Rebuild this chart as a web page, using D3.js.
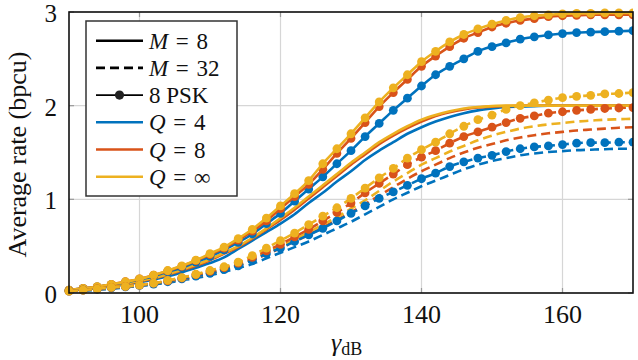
<!DOCTYPE html>
<html>
<head>
<meta charset="utf-8" />
<script src="https://cdn.jsdelivr.net/npm/d3@7"></script>
<style>
  body { margin: 0; background: #fff; }
  text { font-family: "Liberation Serif", "Times New Roman", serif; fill: #111; }
</style>
</head>
<body>
<div id="chart"></div>
<script>
// gamma_dB sample points (every 2 dB)
var xs = [90,92,94,96,98,100,102,104,106,108,110,112,114,116,118,120,122,124,126,128,130,
          132,134,136,138,140,142,144,146,148,150,152,154,156,158,160,162,164,166,168,170];

// M = 8, no PSK (solid)
var m8Q4   = [0.025,0.04,0.055,0.07,0.09,0.115,0.145,0.18,0.22,0.27,0.32,0.38,0.47,0.56,0.65,0.74,0.84,0.96,1.07,1.19,1.30,
              1.42,1.52,1.61,1.70,1.77,1.83,1.88,1.92,1.95,1.97,1.985,1.99,1.995,2.0,2.0,2.0,2.0,2.0,2.0,2.0];
var m8Q8   = [0.03,0.045,0.06,0.08,0.10,0.125,0.155,0.195,0.24,0.29,0.35,0.42,0.49,0.58,0.68,0.78,0.89,1.01,1.13,1.25,1.37,
              1.48,1.59,1.68,1.76,1.83,1.89,1.93,1.96,1.98,1.99,1.995,2.0,2.0,2.0,2.0,2.0,2.0,2.0,2.0,2.0];
var m8Qinf = [0.03,0.045,0.06,0.08,0.10,0.13,0.16,0.20,0.25,0.30,0.36,0.43,0.50,0.59,0.69,0.80,0.91,1.03,1.15,1.27,1.39,
              1.50,1.61,1.70,1.78,1.85,1.90,1.94,1.97,1.985,1.995,2.0,2.0,2.0,2.0,2.0,2.0,2.0,2.0,2.0,2.0];

// M = 32, no PSK (dashed)
var m32Q4   = [0.02,0.025,0.035,0.045,0.06,0.075,0.09,0.11,0.135,0.16,0.19,0.225,0.265,0.31,0.37,0.43,0.49,0.55,0.62,0.69,0.76,
               0.84,0.92,1.00,1.07,1.14,1.20,1.26,1.32,1.37,1.41,1.44,1.47,1.49,1.505,1.515,1.525,1.53,1.535,1.54,1.54];
var m32Q8   = [0.02,0.03,0.04,0.05,0.065,0.08,0.095,0.12,0.145,0.175,0.21,0.25,0.295,0.35,0.41,0.48,0.55,0.62,0.70,0.78,0.86,
               0.95,1.04,1.13,1.22,1.30,1.37,1.44,1.50,1.55,1.59,1.63,1.66,1.685,1.705,1.72,1.735,1.745,1.755,1.765,1.77];
var m32Qinf = [0.02,0.03,0.04,0.055,0.07,0.085,0.10,0.125,0.15,0.18,0.215,0.255,0.30,0.36,0.43,0.50,0.57,0.65,0.73,0.81,0.90,
               0.99,1.09,1.19,1.28,1.37,1.44,1.51,1.57,1.63,1.68,1.72,1.755,1.78,1.80,1.815,1.83,1.84,1.85,1.855,1.86];

// 8 PSK, M = 8 (solid with markers)
var psk8Q4   = [0.03,0.05,0.065,0.09,0.115,0.145,0.18,0.225,0.27,0.33,0.39,0.46,0.54,0.63,0.74,0.85,0.98,1.11,1.24,1.38,1.52,
                1.67,1.81,1.95,2.08,2.21,2.33,2.42,2.50,2.58,2.63,2.67,2.71,2.735,2.755,2.77,2.78,2.785,2.79,2.795,2.80];
var psk8Q8   = [0.03,0.05,0.066,0.092,0.12,0.15,0.19,0.235,0.285,0.345,0.41,0.48,0.565,0.66,0.77,0.90,1.03,1.16,1.32,1.49,1.65,
                1.82,1.99,2.14,2.28,2.42,2.53,2.63,2.72,2.78,2.84,2.88,2.91,2.93,2.95,2.96,2.965,2.97,2.97,2.97,2.97];
var psk8Qinf = [0.03,0.05,0.067,0.093,0.12,0.15,0.19,0.24,0.29,0.35,0.42,0.49,0.58,0.68,0.80,0.93,1.06,1.20,1.38,1.54,1.70,
                1.87,2.04,2.19,2.33,2.47,2.58,2.68,2.76,2.82,2.87,2.91,2.94,2.96,2.97,2.98,2.985,2.985,2.99,2.99,2.99];

// 8 PSK, M = 32 (dashed with markers)
var psk32Q4   = [0.02,0.03,0.04,0.055,0.065,0.08,0.095,0.12,0.15,0.18,0.21,0.25,0.29,0.35,0.42,0.48,0.55,0.62,0.69,0.77,0.85,
                 0.93,1.01,1.08,1.15,1.22,1.28,1.35,1.40,1.44,1.47,1.51,1.54,1.56,1.57,1.585,1.60,1.605,1.605,1.61,1.61];
var psk32Q8   = [0.02,0.03,0.045,0.06,0.07,0.085,0.105,0.13,0.16,0.195,0.23,0.27,0.32,0.38,0.45,0.52,0.60,0.68,0.77,0.86,0.96,
                 1.07,1.17,1.27,1.37,1.45,1.52,1.60,1.67,1.72,1.77,1.82,1.865,1.89,1.92,1.935,1.95,1.96,1.97,1.975,1.98];
var psk32Qinf = [0.02,0.03,0.045,0.06,0.07,0.085,0.105,0.135,0.165,0.20,0.24,0.28,0.33,0.40,0.48,0.56,0.64,0.73,0.82,0.91,1.01,
                 1.12,1.23,1.33,1.44,1.53,1.61,1.70,1.78,1.85,1.90,1.96,2.00,2.03,2.06,2.085,2.10,2.11,2.125,2.13,2.14];

var xTicks = [100, 120, 140, 160];
var yTicks = [0, 1, 2, 3];

var colors = { q4: "#0072BD", q8: "#D95319", qinf: "#EDB120" };

var series = [
  { y: m8Q4,   c: colors.q4,   dash: null, mark: false },
  { y: m8Q8,   c: colors.q8,   dash: null, mark: false },
  { y: m8Qinf, c: colors.qinf, dash: null, mark: false },
  { y: m32Q4,   c: colors.q4,   dash: "9,5", mark: false },
  { y: m32Q8,   c: colors.q8,   dash: "9,5", mark: false },
  { y: m32Qinf, c: colors.qinf, dash: "9,5", mark: false },
  { y: psk8Q4,   c: colors.q4,   dash: null, mark: true },
  { y: psk8Q8,   c: colors.q8,   dash: null, mark: true },
  { y: psk8Qinf, c: colors.qinf, dash: null, mark: true },
  { y: psk32Q4,   c: colors.q4,   dash: "9,5", mark: true },
  { y: psk32Q8,   c: colors.q8,   dash: "9,5", mark: true },
  { y: psk32Qinf, c: colors.qinf, dash: "9,5", mark: true }
];

var W = 638, H = 360;
var pL = 69, pR = 633, pT = 12, pB = 293;

var x = d3.scaleLinear().domain([90, 170]).range([pL, pR]);
var y = d3.scaleLinear().domain([0, 3]).range([pB, pT]);

var svg = d3.select("#chart").append("svg")
  .attr("width", W).attr("height", H);

// grid
svg.append("g").selectAll("line").data(xTicks).enter().append("line")
  .attr("x1", d => x(d)).attr("x2", d => x(d))
  .attr("y1", pT).attr("y2", pB)
  .attr("stroke", "#d6d6d6").attr("stroke-width", 1.2);
svg.append("g").selectAll("line").data(yTicks).enter().append("line")
  .attr("y1", d => y(d)).attr("y2", d => y(d))
  .attr("x1", pL).attr("x2", pR)
  .attr("stroke", "#d6d6d6").attr("stroke-width", 1.2);

// inner ticks
var tk = svg.append("g").attr("stroke", "#9a9a9a").attr("stroke-width", 1.2);
xTicks.forEach(function (t) {
  tk.append("line").attr("x1", x(t)).attr("x2", x(t)).attr("y1", pB).attr("y2", pB - 5);
  tk.append("line").attr("x1", x(t)).attr("x2", x(t)).attr("y1", pT).attr("y2", pT + 5);
});
yTicks.forEach(function (t) {
  tk.append("line").attr("y1", y(t)).attr("y2", y(t)).attr("x1", pL).attr("x2", pL + 5);
  tk.append("line").attr("y1", y(t)).attr("y2", y(t)).attr("x1", pR).attr("x2", pR - 5);
});

// curves
svg.append("clipPath").attr("id", "clip").append("rect")
  .attr("x", pL - 6).attr("y", pT - 6).attr("width", pR - pL + 6).attr("height", pB - pT + 12);

var line = d3.line()
  .x(function (d) { return x(d[0]); })
  .y(function (d) { return y(d[1]); })
  .curve(d3.curveMonotoneX);

var plot = svg.append("g").attr("clip-path", "url(#clip)");
series.forEach(function (s) {
  var pts = xs.map(function (v, i) { return [v, s.y[i]]; });
  plot.append("path")
    .attr("d", line(pts))
    .attr("fill", "none")
    .attr("stroke", s.c)
    .attr("stroke-width", 2.6)
    .attr("stroke-dasharray", s.dash);
  if (s.mark) {
    plot.append("g").selectAll("circle").data(pts).enter().append("circle")
      .attr("cx", d => x(d[0])).attr("cy", d => y(d[1]))
      .attr("r", 4.4).attr("fill", s.c);
  }
});

// frame
svg.append("rect")
  .attr("x", pL).attr("y", pT).attr("width", pR - pL).attr("height", pB - pT)
  .attr("fill", "none").attr("stroke", "#111").attr("stroke-width", 1.6);

// tick labels
svg.append("g").selectAll("text").data(xTicks).enter().append("text")
  .attr("x", d => x(d)).attr("y", 323)
  .attr("text-anchor", "middle").style("font-size", "26px")
  .text(d => d);
svg.append("g").selectAll("text").data(yTicks).enter().append("text")
  .attr("x", 57).attr("y", d => y(d) + 10)
  .attr("text-anchor", "end").style("font-size", "25px")
  .text(d => d);

// axis titles
svg.append("text")
  .attr("transform", "translate(26," + ((pT + pB) / 2 + 2) + ") rotate(-90)")
  .attr("text-anchor", "middle").style("font-size", "26px")
  .text("Average rate (bpcu)");

var xl = svg.append("text").attr("x", 331).attr("y", 351).style("font-size", "26px");
xl.append("tspan").style("font-style", "italic").text("γ");
xl.append("tspan").attr("dy", 4).style("font-size", "18px").text("dB");

// legend
var lg = svg.append("g");
lg.append("rect").attr("x", 86).attr("y", 21).attr("width", 151).attr("height", 175)
  .attr("fill", "#fff").attr("stroke", "#333").attr("stroke-width", 1.5);

var legendItems = [
  { c: "#000", dash: null, mark: false, label: ["M", "\u2004=\u20048"] },
  { c: "#000", dash: "9,5", mark: false, label: ["M", "\u2004=\u200432"] },
  { c: "#000", dash: null, mark: true, label: [null, "8 PSK"] },
  { c: colors.q4, dash: null, mark: false, label: ["Q", "\u2004=\u20044"] },
  { c: colors.q8, dash: null, mark: false, label: ["Q", "\u2004=\u20048"] },
  { c: colors.qinf, dash: null, mark: false, label: ["Q", "\u2004=\u2004∞"] }
];
legendItems.forEach(function (it, i) {
  var ly = 40.7 + i * 27.2;
  lg.append("line").attr("x1", 96).attr("x2", 143).attr("y1", ly).attr("y2", ly)
    .attr("stroke", it.c).attr("stroke-width", it.mark ? 1.6 : 2.6)
    .attr("stroke-dasharray", it.dash);
  if (it.mark) {
    lg.append("circle").attr("cx", 119.5).attr("cy", ly).attr("r", 4.6).attr("fill", "#222");
  }
  var t = lg.append("text").attr("x", 149).attr("y", ly + 8).style("font-size", "23px");
  if (it.label[0]) t.append("tspan").style("font-style", "italic").text(it.label[0]);
  t.append("tspan").text(it.label[1]);
});
</script>
</body>
</html>
